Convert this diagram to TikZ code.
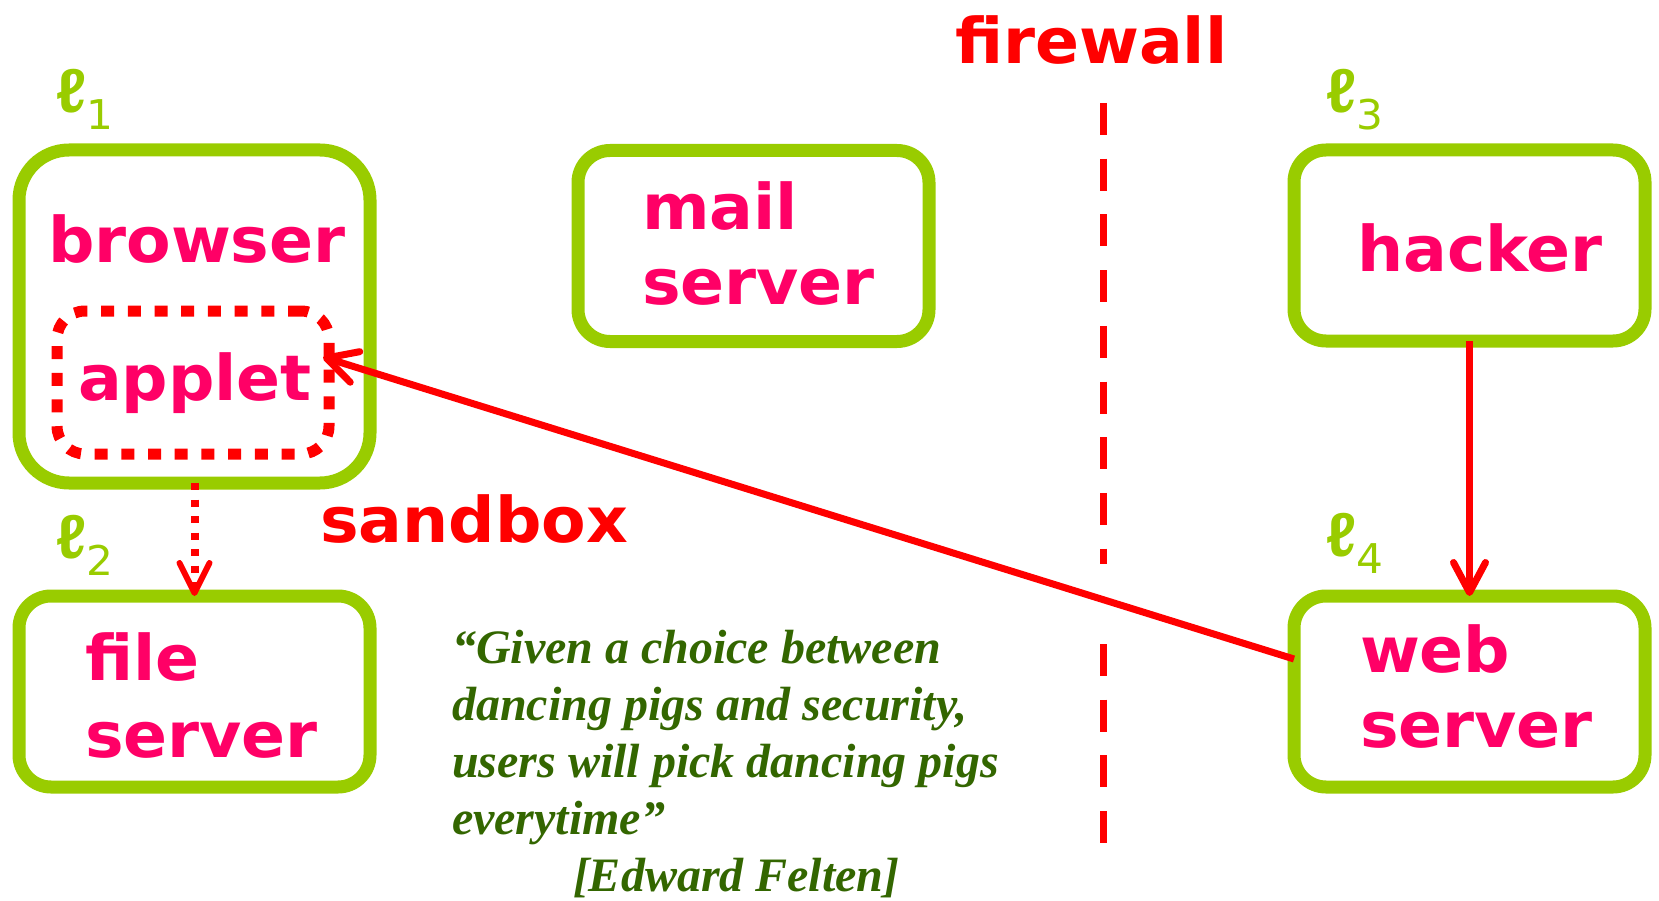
\documentclass[tikz,border=0pt]{standalone}
\usepackage{fontspec}
\setmainfont{DejaVu Sans}[FakeStretch=1.03]
\newfontfamily\quotefont{Liberation Serif}
\newfontfamily\ellfont{Liberation Sans}
\usetikzlibrary{arrows.meta}
\definecolor{boxgreen}{HTML}{99CC00}
\definecolor{labelpink}{HTML}{FF0066}
\definecolor{alertred}{HTML}{FF0000}
\definecolor{quotegreen}{HTML}{336600}
% location label: script ell with a lowered index
\newcommand\locsub[1]{{\ellfont\bfseries ℓ}\raisebox{-17pt}{\fontsize{41}{41}\selectfont\mdseries #1}}
\begin{document}
\begin{tikzpicture}[x=1pt,y=-1pt,
  site/.style={draw=boxgreen, line width=13pt, rounded corners=32pt,
    minimum width=351pt, minimum height=191pt, inner sep=0pt, outer sep=0pt},
  word/.style={anchor=base west, inner sep=0pt, outer sep=0pt,
    text=labelpink, font=\fontsize{63}{75}\selectfont\bfseries},
  redword/.style={word, text=alertred},
  locus/.style={anchor=base west, inner sep=0pt, outer sep=0pt,
    text=boxgreen, font=\fontsize{62}{62}\selectfont},
  flow/.style={draw=alertred, line width=7pt,
    -{Straight Barb[length=30pt, width=32pt, round]}},
  leak/.style={draw=alertred, line width=8pt, dash pattern=on 7pt off 9.5pt,
    -{Straight Barb[length=30pt, width=30pt, round, line width=6pt]}},
  wall/.style={draw=alertred, line width=7pt, dash pattern=on 32pt off 23.7pt}]
\useasboundingbox (0,0) rectangle (1659,901);

% machines
\node[site, rounded corners=50pt, minimum height=333pt] (browser) at (194.5,316.5) {};
\node[site] (file)   at (194.5,691.5) {};
\node[site] (mail)   at (753.5,246)   {};
\node[site] (hacker) at (1469.5,245.5) {};
\node[site] (web)    at (1469.5,691.5) {};

% the sandboxed applet inside the browser
\node[draw=alertred, line width=11pt, dash pattern=on 13pt off 13.7pt,
      rounded corners=28pt, minimum width=272pt, minimum height=143pt,
      inner sep=0pt, outer sep=0pt] (applet) at (193,382.5) {};

% box labels
\node[word] (browsertxt) at (48,262)   {browser};
\node[word] (applettxt)  at (78,400)   {applet};
\node[word] (filetxt)    at (85,680)   {\vtop{\baselineskip=77pt\hbox{file}\hbox{server}}};
\node[word] (mailtxt)    at (642,230)  {\vtop{\baselineskip=75pt\hbox{mail}\hbox{server}}};
\node[word] (hackertxt)  at (1357,272) {hacker};
\node[word] (webtxt)     at (1360,672) {\vtop{\baselineskip=75pt\hbox{web}\hbox{server}}};

% location names
\node[locus] (l1) at (56,113)   {\locsub{1}};
\node[locus] (l2) at (56,558)   {\locsub{2}};
\node[locus] (l3) at (1326,113) {\locsub{3}};
\node[locus] (l4) at (1326,556) {\locsub{4}};

% firewall
\node[redword] (firewalltxt) at (955,64)  {firewall};
\node[redword] (sandboxtxt)  at (320,542) {sandbox};
\draw[wall] (1103,103) -- (1103,564);
\draw[wall] (1103,644) -- (1103,843);

% connectors
\draw[leak] (browser.south) -- (file.north);
\draw[flow] (hacker.south) -- (web.north);
\draw[flow] ([yshift=32.5pt]web.west) -- ([xshift=-6pt,yshift=25.5pt]applet.east);

% quotation
\node[anchor=base west, inner sep=0pt, outer sep=0pt, text=quotegreen,
      font=\quotefont\bfseries\itshape\fontsize{48}{57}\selectfont] (quote) at (452,663)
  {\vtop{\baselineskip=57pt
    \hbox{“Given a choice between}
    \hbox{dancing pigs and security,}
    \hbox{users will pick dancing pigs}
    \hbox{everytime”}
    \hbox{\hspace{121pt}[Edward Felten]}}};
\end{tikzpicture}
\end{document}
